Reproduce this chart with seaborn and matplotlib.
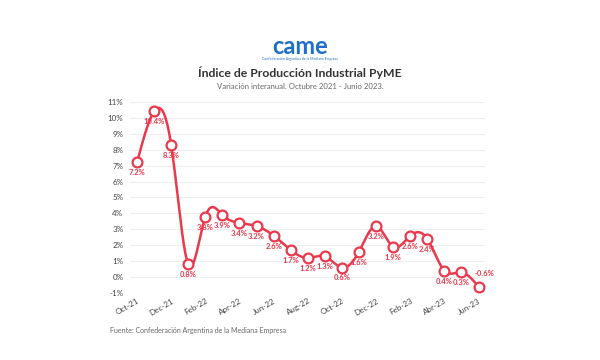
import numpy as np
import pandas as pd
import matplotlib
matplotlib.use("Agg")
import matplotlib.pyplot as plt
import seaborn as sns

months = ["Oct-21", "Nov-21", "Dec-21", "Jan-22", "Feb-22", "Mar-22", "Apr-22", "May-22",
          "Jun-22", "Jul-22", "Aug-22", "Sep-22", "Oct-22", "Nov-22", "Dec-22", "Jan-23",
          "Feb-23", "Mar-23", "Abr-23", "May-23", "Jun-23"]
values = [7.2, 10.4, 8.3, 0.8, 3.8, 3.9, 3.4, 3.2, 2.6, 1.7, 1.2, 1.3, 0.6, 1.6, 3.2, 1.9,
          2.6, 2.4, 0.4, 0.3, -0.6]
yticks = list(range(-1, 12))

sns.set_theme(style="white")
plt.rcParams['font.family'] = ['Lato', 'DejaVu Sans']

RED = "#e8394d"
fig = plt.figure(figsize=(6, 3.6), dpi=100)
fig.patch.set_facecolor("white")
ax = fig.add_axes([0.217, 0.186, 0.592, 0.531])

x = np.arange(len(values))
y = np.array(values, dtype=float)


# natural cubic spline through the data points (smoothed line style)
def natural_spline(ys, n=30):
    N = len(ys)
    A = np.zeros((N, N))
    b = np.zeros(N)
    A[0, 0] = 1
    A[-1, -1] = 1
    for i in range(1, N - 1):
        A[i, i - 1] = 1
        A[i, i] = 4
        A[i, i + 1] = 1
        b[i] = 6 * (ys[i + 1] - 2 * ys[i] + ys[i - 1])
    M = np.linalg.solve(A, b)
    ox, oy = [], []
    for i in range(N - 1):
        t = np.linspace(0, 1, n, endpoint=False)
        seg = ((1 - t) * ys[i] + t * ys[i + 1]
               + ((1 - t) ** 3 - (1 - t)) * M[i] / 6 + (t ** 3 - t) * M[i + 1] / 6)
        ox.extend(i + t)
        oy.extend(seg)
    ox.append(N - 1)
    oy.append(ys[-1])
    return np.array(ox), np.array(oy)


sx, sy = natural_spline(y)
line_df = pd.DataFrame({"x": sx, "y": sy})
pts_df = pd.DataFrame({"x": x, "y": y, "month": months})

sns.lineplot(data=line_df, x="x", y="y", ax=ax, color=RED, linewidth=1.8, sort=False, zorder=3)
sns.scatterplot(data=pts_df, x="x", y="y", ax=ax, s=50, color="white", edgecolor=RED,
                linewidth=1.6, zorder=4)

for i, v in enumerate(values):
    lbl = f"{v:.1f}%"
    if i == len(values) - 1:
        ax.annotate(lbl, (i, v), xytext=(4, 7), textcoords="offset points", ha="center",
                    va="bottom", fontsize=5.5, color=RED, fontweight="bold")
    else:
        ax.annotate(lbl, (i, v), xytext=(0, -5), textcoords="offset points", ha="center",
                    va="top", fontsize=5.5, color=RED, fontweight="bold")

ax.set_xlim(-0.4, 20.4)
ax.set_ylim(-1, 11)
ax.set_yticks(yticks)
ax.set_yticklabels([f"{t}%" for t in yticks], fontsize=5.8, color="#444444")
ax.set_xticks(x[::2])
ax.set_xticklabels(months[::2], rotation=30, ha="right", rotation_mode="anchor",
                   fontsize=5.8, color="#444444")
ax.set_xlabel("")
ax.set_ylabel("")
ax.grid(axis="y", color="#eeeeee", linewidth=0.8)
ax.set_axisbelow(True)
for s in ax.spines.values():
    s.set_visible(False)
ax.tick_params(axis="y", length=4, width=0.6, color="#cccccc", pad=1)
ax.tick_params(axis="x", length=0, pad=3)

fig.text(0.5, 0.872, "came", ha="center", va="center", fontsize=17, fontweight="bold",
         color="#1f6fc5")
fig.text(0.5, 0.835, "Confederación Argentina de la Mediana Empresa", ha="center", va="center",
         fontsize=2.5, color="#1f6fc5")
fig.text(0.5, 0.797, "Índice de Producción Industrial PyME", ha="center", va="center",
         fontsize=8.8, fontweight="bold", color="#333333")
fig.text(0.5, 0.760, "Variación interanual. Octubre 2021 - Junio 2023.", ha="center",
         va="center", fontsize=5.6, color="#666666")
fig.text(0.183, 0.083, "Fuente: Confederación Argentina de la Mediana Empresa", ha="left",
         va="center", fontsize=5.0, color="#666666")

fig.savefig("out.png", dpi=100, facecolor="white")
